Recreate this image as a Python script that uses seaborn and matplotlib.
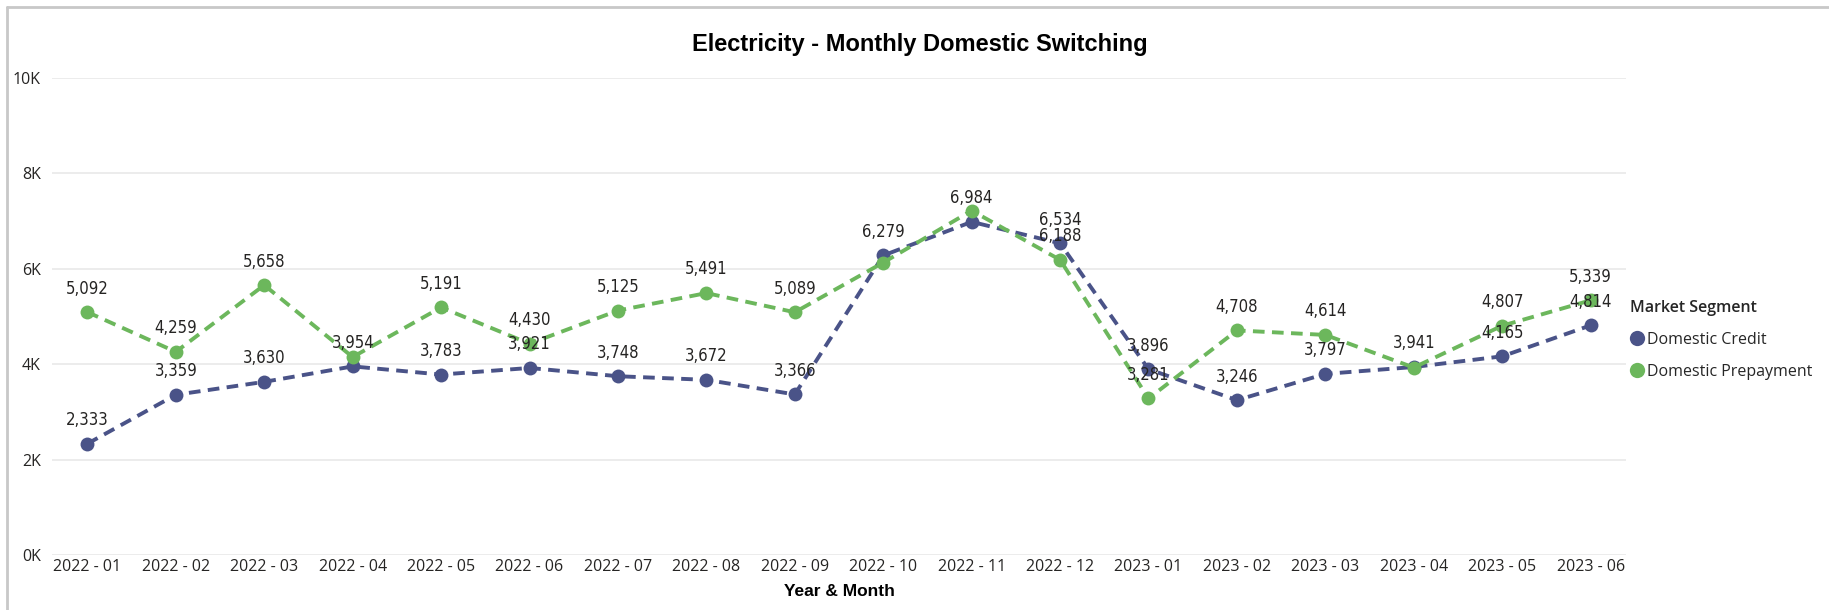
import matplotlib
matplotlib.use("Agg")
import matplotlib.pyplot as plt
import seaborn as sns
import numpy as np
import pandas as pd
from matplotlib.lines import Line2D
from matplotlib.ticker import FixedLocator, FuncFormatter
from matplotlib import font_manager

months = ["2022 - 01", "2022 - 02", "2022 - 03", "2022 - 04", "2022 - 05", "2022 - 06",
          "2022 - 07", "2022 - 08", "2022 - 09", "2022 - 10", "2022 - 11", "2022 - 12",
          "2023 - 01", "2023 - 02", "2023 - 03", "2023 - 04", "2023 - 05", "2023 - 06"]
credit = [2333, 3359, 3630, 3954, 3783, 3921, 3748, 3672, 3366, 6279, 6984, 6534,
          3896, 3246, 3797, 3941, 4165, 4814]
prepay = [5092, 4259, 5658, 4150, 5191, 4430, 5125, 5491, 5089, 6130, 7220, 6188,
          3281, 4708, 4614, 3930, 4807, 5339]
# which data labels are visible in the reference (others hidden by overlap)
credit_label_shown = [True] * 18
prepay_label_shown = [True, True, True, False, True, True, True, True, True, False, False, True,
                      True, True, True, False, True, True]
series_names = ["Domestic Credit", "Domestic Prepayment"]
colors = ["#4A5388", "#6CB75C"]
yticks = [0, 2000, 4000, 6000, 8000, 10000]

sns.set_theme(style="white")
plt.rcParams['font.family'] = ['Open Sans', 'DejaVu Sans']

# condensed font for data labels, if installed
cond_path = None
for f in font_manager.fontManager.ttflist:
    if f.name == "DejaVu Sans" and f.stretch == "condensed" and f.weight in (400, "normal") and f.style == "normal":
        cond_path = f.fname
        break
if cond_path is None:
    for f in font_manager.fontManager.ttflist:
        if "Narrow" in f.name or "Condensed" in f.name:
            cond_path = f.fname
            break
lab_prop = font_manager.FontProperties(fname=cond_path, size=12) if cond_path else \
    font_manager.FontProperties(family="DejaVu Sans", size=11)

W, H = 1829, 610
fig = plt.figure(figsize=(W / 100, H / 100), dpi=100)
ax = fig.add_axes([52 / W, (H - 555) / H, (1626 - 52) / W, (555 - 78) / H])

df = pd.DataFrame({
    "idx": list(range(len(months))) * 2,
    "value": credit + prepay,
    "segment": [series_names[0]] * len(months) + [series_names[1]] * len(months),
})

for name, col in zip(series_names, colors):
    sub = df[df["segment"] == name]
    sns.lineplot(data=sub, x="idx", y="value", ax=ax, color=col, linewidth=2.8,
                 linestyle=(0, (3.0, 1.9)), marker="o", markersize=10,
                 markeredgewidth=0, legend=False, zorder=3)

ax.set_xlim(-0.4, len(months) - 0.6)
ax.set_ylim(0, 10000)
ax.set_xticks(range(len(months)))
ax.set_xticklabels(months)
ax.yaxis.set_major_locator(FixedLocator(yticks))
ax.yaxis.set_major_formatter(FuncFormatter(lambda v, p: f"{int(v/1000)}K"))
ax.grid(axis="y", color="#E9E9E9", linewidth=1.2)
ax.grid(axis="x", visible=False)
for s in ax.spines.values():
    s.set_visible(False)
ax.tick_params(axis="x", length=0, pad=3, labelsize=11.5, labelcolor="#252423")
ax.tick_params(axis="y", length=0, pad=8, labelsize=11.5, labelcolor="#252423")
ax.set_xlabel("Year & Month", fontsize=12.5, fontweight="bold", family="Liberation Sans",
              color="#000000", labelpad=6)
ax.set_ylabel("")

for vals, shown in ((credit, credit_label_shown), (prepay, prepay_label_shown)):
    for i, (v, s) in enumerate(zip(vals, shown)):
        if s:
            ax.annotate(f"{v:,}", (i, v), xytext=(0, 17), textcoords="offset points",
                        ha="center", va="center", fontproperties=lab_prop,
                        color="#252423", zorder=5)

fig.text(920 / W, 1 - 44 / H, "Electricity - Monthly Domestic Switching", ha="center",
         va="center", fontsize=17, fontweight="bold", family="Liberation Sans", color="#000000")

handles = [Line2D([], [], linestyle="none", marker="o", markersize=11, color=c,
                  markeredgewidth=0) for c in colors]
leg = fig.legend(handles, series_names, title="Market Segment", loc="upper left",
                 bbox_to_anchor=(1630 / W, 1 - 300 / H), frameon=False, fontsize=11.5,
                 title_fontproperties={"weight": "semibold", "size": 11.5},
                 handletextpad=0.15, handlelength=0.9, labelspacing=1.0,
                 alignment="left", borderaxespad=0, borderpad=0)

# visual frame (top and left borders)
fig.add_artist(Line2D([7 / W, 7 / W], [0, 1 - 7 / H], color="#C8C8C8", linewidth=2,
                      transform=fig.transFigure))
fig.add_artist(Line2D([7 / W, 1], [1 - 7 / H, 1 - 7 / H], color="#C8C8C8", linewidth=2,
                      transform=fig.transFigure))

fig.savefig("out.png", dpi=100, facecolor="white")
